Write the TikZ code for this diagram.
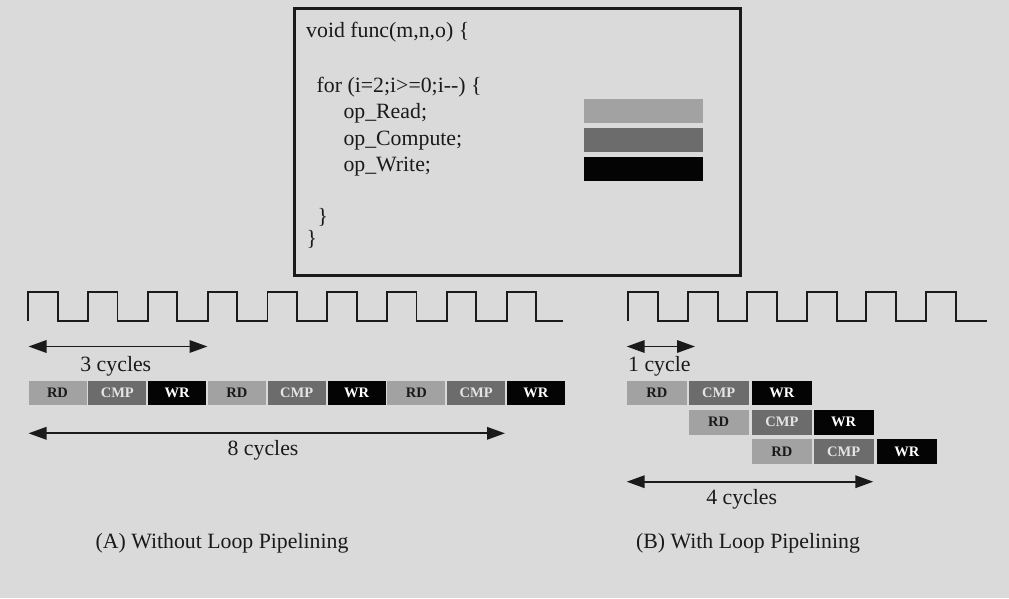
\documentclass[tikz,border=0pt]{standalone}
\usepackage{fontspec}
\setmainfont{Liberation Serif}
\usetikzlibrary{arrows.meta}
\definecolor{bg}{HTML}{DADADA}
\definecolor{ink}{HTML}{1A1A1A}
\definecolor{rdc}{HTML}{A2A2A2}
\definecolor{cmpc}{HTML}{6C6C6C}
\definecolor{wrc}{HTML}{040404}
\definecolor{cmptext}{HTML}{E4E4E4}
\tikzset{
  txt/.style={font=\fontsize{21.8}{26}\selectfont, text=ink, inner sep=0pt},
  blk/.style={minimum width=58pt, minimum height=24pt, inner sep=0pt, anchor=north west,
              font=\fontsize{14.5}{16}\selectfont\bfseries},
  rdb/.style={blk, fill=rdc, text=ink},
  cmpb/.style={blk, fill=cmpc, text=cmptext},
  wrb/.style={blk, fill=wrc, text=white},
  clk/.style={draw=ink, line width=1.8pt, line join=miter},
  dim/.style={draw=ink, line width=1.8pt, {Triangle[length=18pt,width=12.5pt]}-{Triangle[length=18pt,width=12.5pt]}},
}
\begin{document}
\begin{tikzpicture}[x=1pt,y=-1pt]
\fill[bg] (0,0) rectangle (1009,598);
\useasboundingbox (0,0) rectangle (1009,598);
% code box
\draw[ink, line width=3pt] (294.5,8.5) rectangle (740.5,275.5);
\node[txt, anchor=base west] (l1) at (306,37) {void func(m,n,o) \{};
\node[txt, anchor=base west] (l2) at (316.5,92.5) {for (i=2;i>=0;i-{}-) \{};
\node[txt, anchor=base west] (l3) at (343.3,118.5) {op\_Read;};
\node[txt, anchor=base west] (l4) at (343.3,145) {op\_Compute;};
\node[txt, anchor=base west] (l5) at (343.3,171) {op\_Write;};
\node[txt, anchor=base west] (l6) at (317.5,223.5) {\}};
\node[txt, anchor=base west] (l7) at (306.5,245.5) {\}};
\fill[rdc] (583.5,99) rectangle (703,123);
\fill[cmpc] (583.5,128) rectangle (703,152);
\fill[wrc] (583.5,157) rectangle (703,181);
% clocks
\coordinate (ca) at (28.3,320.7);
\draw[clk] (ca) \foreach \k in {1,...,8}{ -- ++(0,-28.4) -- ++(29.4,0) -- ++(0,28.4) -- ++(30.4,0)}
   -- ++(0,-28.4) -- ++(29.4,0) -- ++(0,28.4) -- ++(26.5,0);
\coordinate (cb) at (628.3,320.7);
\draw[clk] (cb) \foreach \k in {1,...,5}{ -- ++(0,-28.4) -- ++(30,0) -- ++(0,28.4) -- ++(29.5,0)}
   -- ++(0,-28.4) -- ++(30,0) -- ++(0,28.4) -- ++(30.9,0);
% A blocks
\foreach \i/\s/\t in {0/rdb/RD,1/cmpb/CMP,2/wrb/WR,3/rdb/RD,4/cmpb/CMP,5/wrb/WR,6/rdb/RD,7/cmpb/CMP,8/wrb/WR}{
  \node[\s] (a\i) at ({28.3+59.8*\i},381) {\t};
}
% B blocks
\node[rdb, minimum width=60pt] (b11) at (626.7,381) {RD};
\node[cmpb, minimum width=60pt] (b12) at (688.5,381) {CMP};
\node[wrb, minimum width=60pt] (b13) at (751.7,381) {WR};
\node[rdb, minimum width=60pt, minimum height=25pt] (b21) at (688.5,409.5) {RD};
\node[cmpb, minimum width=60pt, minimum height=25pt] (b22) at (751.7,409.5) {CMP};
\node[wrb, minimum width=60pt, minimum height=25pt] (b23) at (813.5,409.5) {WR};
\node[rdb, minimum width=60pt, minimum height=25.5pt] (b31) at (751.7,438.5) {RD};
\node[cmpb, minimum width=60pt, minimum height=25.5pt] (b32) at (813.5,438.5) {CMP};
\node[wrb, minimum width=60pt, minimum height=25.5pt] (b33) at (876.7,438.5) {WR};
% dimension arrows
\coordinate (d3l) at (28.5,346.5); \coordinate (d3r) at (207.5,346.5);
\draw[dim] (d3l) -- (d3r);
\node[txt, anchor=base] (t3) at (115.8,371) {3 cycles};
\coordinate (d8l) at (28.5,433.3); \coordinate (d8r) at (505,433.3);
\draw[dim] (d8l) -- (d8r);
\node[txt, anchor=base] (t8) at (263,455.5) {8 cycles};
\coordinate (d1l) at (626.7,346.5); \coordinate (d1r) at (695,346.5);
\draw[dim] (d1l) -- (d1r);
\node[txt, anchor=base west] (t1) at (628,371) {1 cycle};
\coordinate (d4l) at (626.7,481.7); \coordinate (d4r) at (873.3,481.7);
\draw[dim] (d4l) -- (d4r);
\node[txt, anchor=base] (t4) at (741.7,504) {4 cycles};
% captions
\node[txt, anchor=base] (capA) at (222,548.5) {(A) Without Loop Pipelining};
\node[txt, anchor=base] (capB) at (748,548.5) {(B) With Loop Pipelining};
\end{tikzpicture}
\end{document}
